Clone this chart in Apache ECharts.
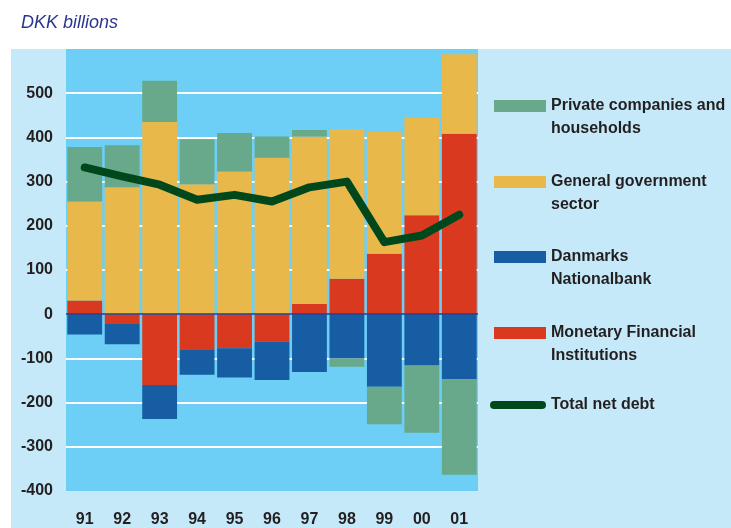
<!DOCTYPE html>
<html>
<head>
<meta charset="utf-8">
<script src="https://cdn.jsdelivr.net/npm/echarts@6/dist/echarts.min.js"></script>
<style>
  html, body { margin: 0; padding: 0; background: #ffffff; }
  #chart-holder { width: 731px; height: 528px; }
</style>
</head>
<body>
<div id="chart-holder"></div>
<script>
const years = ['91', '92', '93', '94', '95', '96', '97', '98', '99', '00', '01'];
const monetaryInstitutions = [31, -22, -160, -81, -77, -62, 23, 80, 137, 224, 408];
const nationalbank = [-46, -46, -77, -56, -66, -87, -131, -100, -164, -116, -147];
const generalGovernment = [224, 287, 435, 294, 323, 354, 379, 339, 276, 220, 180];
const privateCompanies = [123, 95, 93, 102, 87, 48, 15, -19, -85, -152, -216];
const totalNetDebt = [332, 312, 293, 259, 270, 255, 287, 300, 163, 178, 225];
const yTicks = [-400, -300, -200, -100, 0, 100, 200, 300, 400, 500, 600];

const COLORS = {
  private: '#67a98a',
  government: '#e8b84a',
  nationalbank: '#175da3',
  monetary: '#d93a1f',
  total: '#00481b',
  plot: '#6dcff6',
  panel: '#c6e9f9',
  zero: '#2b3a8f',
  text: '#231f20',
};

const labelFont = {
  color: COLORS.text,
  fontFamily: 'Liberation Sans',
  fontWeight: 'bold',
  fontSize: 16,
};

// one legend per entry so each can sit at its own height;
// two-line names get an empty first line so the icon lines up with the first real line
function legendEntry(name, iconCenter, twoLines, extra) {
  return Object.assign({
    data: [name],
    left: 494,
    top: twoLines ? iconCenter - 34.5 : iconCenter - 11.5,
    padding: 0,
    itemWidth: 52,
    itemHeight: 12,
    selectedMode: false,
    icon: 'rect',
    formatter: (n) => (twoLines ? '\n' + n : n),
    textStyle: Object.assign({}, labelFont, { lineHeight: 23 }),
  }, extra || {});
}

const legendNames = {
  private: 'Private companies and\nhouseholds',
  government: 'General government\nsector',
  nationalbank: 'Danmarks\nNationalbank',
  monetary: 'Monetary Financial\nInstitutions',
  total: 'Total net debt',
};

// white grid lines except at the edges and at zero
const splitColors = yTicks.map((v) => (v === 0 || v === -400 || v === 600 ? 'rgba(0,0,0,0)' : '#ffffff'));

const chart = echarts.init(document.getElementById('chart-holder'));

const option = {
  animation: false,
  title: {
    text: 'DKK billions',
    left: 21,
    top: 14,
    padding: 0,
    textStyle: {
      color: '#2b3590',
      fontFamily: 'Liberation Sans',
      fontStyle: 'italic',
      fontWeight: 'normal',
      fontSize: 18,
    },
  },
  graphic: [{
    type: 'rect',
    z: -10,
    silent: true,
    shape: { x: 11, y: 49, width: 720, height: 479 },
    style: { fill: COLORS.panel },
  }],
  legend: [
    legendEntry(legendNames.private, 106, true),
    legendEntry(legendNames.government, 182, true),
    legendEntry(legendNames.nationalbank, 257, true),
    legendEntry(legendNames.monetary, 333, true),
    legendEntry(legendNames.total, 405, false, {
      left: 490,
      itemWidth: 56,
      itemHeight: 8,
      icon: 'path://M4,0 L52,0 A4,4 0 0 1 52,8 L4,8 A4,4 0 0 1 4,0 Z',
      itemStyle: { color: COLORS.total },
    }),
  ],
  grid: {
    left: 66,
    right: 253,
    top: 49,
    bottom: 37,
    show: true,
    backgroundColor: COLORS.plot,
    borderWidth: 0,
  },
  xAxis: {
    type: 'category',
    data: years,
    axisLine: { show: false, onZero: false },
    axisTick: { show: false },
    axisLabel: Object.assign({ margin: 21 }, labelFont),
  },
  yAxis: {
    type: 'value',
    min: -400,
    max: 600,
    interval: 100,
    axisLine: { show: false },
    axisTick: { show: false },
    axisLabel: Object.assign({
      margin: 13,
      formatter: (v) => (v === 600 ? '' : String(v)),
    }, labelFont),
    splitLine: {
      show: true,
      lineStyle: { color: splitColors, width: 2 },
    },
  },
  series: [
    {
      name: legendNames.monetary,
      type: 'bar',
      stack: 'debt',
      barCategoryGap: '7%',
      data: monetaryInstitutions,
      itemStyle: { color: COLORS.monetary },
    },
    {
      name: legendNames.nationalbank,
      type: 'bar',
      stack: 'debt',
      data: nationalbank,
      itemStyle: { color: COLORS.nationalbank },
    },
    {
      name: legendNames.government,
      type: 'bar',
      stack: 'debt',
      data: generalGovernment,
      itemStyle: { color: COLORS.government },
    },
    {
      name: legendNames.private,
      type: 'bar',
      stack: 'debt',
      data: privateCompanies,
      itemStyle: { color: COLORS.private },
      markLine: {
        silent: true,
        symbol: 'none',
        label: { show: false },
        lineStyle: { color: COLORS.zero, width: 1.5, type: 'solid' },
        data: [{ yAxis: 0 }],
      },
    },
    {
      name: legendNames.total,
      type: 'line',
      data: totalNetDebt,
      showSymbol: false,
      symbol: 'none',
      lineStyle: { color: COLORS.total, width: 8, cap: 'round', join: 'round' },
      itemStyle: { color: COLORS.total },
    },
  ],
};

chart.setOption(option);
</script>
</body>
</html>
